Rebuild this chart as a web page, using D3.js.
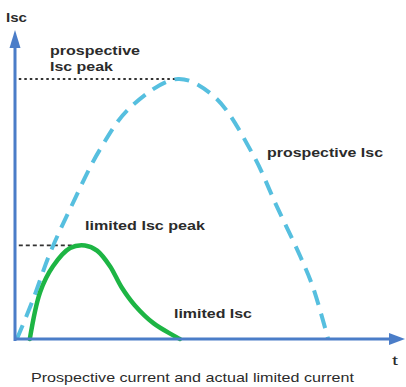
<!DOCTYPE html>
<html>
    <head>
        <meta charset="utf-8">
        <title>Prospective current and actual limited current</title>
        <script src="https://d3js.org/d3.v7.min.js"></script>
        <style>
            body { margin: 0; background: #fff; }
            text { font-family: "Liberation Sans", Arial, sans-serif; fill: #2b2b2b; }
        </style>
    </head>
    <body>
        <script>
            const width = 406;
            const height = 387;

            // values (t in arbitrary units, Isc relative to prospective peak)
            const prospectiveT   = [0.05, 0.47, 0.92, 1.45, 2.24, 3.03, 4.29, 5.26, 6.26, 6.89, 7.50, 7.84, 8.24];
            const prospectiveIsc = [0,    0.15, 0.33, 0.50, 0.73, 0.89, 1.00, 0.93, 0.71, 0.51, 0.32, 0.20, 0];
            const limitedT   = [0.39, 0.66, 1.00, 1.45, 1.84, 2.16, 2.50, 2.80, 3.15, 3.65, 4.34];
            const limitedIsc = [0,    0.18, 0.28, 0.35, 0.36, 0.34, 0.28, 0.20, 0.13, 0.06, 0];
            const prospectivePeak = { t: 4.29, v: 1.00 };
            const limitedPeak = { t: 1.55, v: 0.36 };

            const x = d3.scaleLinear().domain([0, 10]).range([15, 395]);
            const y = d3.scaleLinear().domain([0, 1]).range([339, 79]);

            const svg = d3.select("body").append("svg")
                .attr("width", width)
                .attr("height", height)
            ;

            const line = d3.line()
                .x(d => x(d[0]))
                .y(d => y(d[1]))
                .curve(d3.curveCatmullRom.alpha(0.5))
            ;

            // peak guides
            svg.append("line")
                .attr("x1", x(0.1)).attr("x2", x(prospectivePeak.t))
                .attr("y1", y(prospectivePeak.v)).attr("y2", y(prospectivePeak.v))
                .attr("stroke", "#333").attr("stroke-width", 2)
                .attr("stroke-dasharray", "2.5,3");
            svg.append("line")
                .attr("x1", x(0.1)).attr("x2", x(limitedPeak.t))
                .attr("y1", y(limitedPeak.v)).attr("y2", y(limitedPeak.v))
                .attr("stroke", "#333").attr("stroke-width", 1.6)
                .attr("stroke-dasharray", "4,3");

            // prospective current
            svg.append("path")
                .datum(d3.zip(prospectiveT, prospectiveIsc))
                .attr("d", line)
                .attr("fill", "none")
                .attr("stroke", "#56bfdf")
                .attr("stroke-width", 4)
                .attr("stroke-dasharray", "15,9");

            // limited current
            svg.append("path")
                .datum(d3.zip(limitedT, limitedIsc))
                .attr("d", line)
                .attr("fill", "none")
                .attr("stroke", "#1db544")
                .attr("stroke-width", 4.5)
                .attr("stroke-linecap", "round");

            // axes
            const axisColor = "#4b7dc8";
            svg.append("line")
                .attr("x1", x(0)).attr("x2", x(0))
                .attr("y1", y(0) + 2).attr("y2", 44)
                .attr("stroke", axisColor).attr("stroke-width", 3);
            svg.append("path")
                .attr("d", `M${x(0)},30 L${x(0) + 5.5},48 L${x(0) - 5.5},48 Z`)
                .attr("fill", axisColor);
            svg.append("line")
                .attr("x1", x(0) - 1).attr("x2", 392)
                .attr("y1", y(0)).attr("y2", y(0))
                .attr("stroke", axisColor).attr("stroke-width", 3);
            svg.append("path")
                .attr("d", `M405,${y(0)} L389,${y(0) - 6} L389,${y(0) + 6} Z`)
                .attr("fill", axisColor);

            // labels
            const labels = [
                { text: "Isc", x: 6, y: 22, w: 21, bold: true },
                { text: "prospective", x: 50, y: 55, w: 90, bold: true },
                { text: "Isc peak", x: 50, y: 71, w: 63, bold: true },
                { text: "prospective Isc", x: 267, y: 157, w: 116, bold: true },
                { text: "limited Isc peak", x: 85, y: 230, w: 120, bold: true },
                { text: "limited Isc", x: 174, y: 318, w: 78, bold: true },
                { text: "t", x: 392, y: 365, w: 6, bold: false },
                { text: "Prospective current and actual limited current", x: 31, y: 382, w: 323, bold: false }
            ];
            svg.selectAll("text.lbl")
                .data(labels).join("text")
                .attr("class", "lbl")
                .attr("x", d => d.x)
                .attr("y", d => d.y)
                .attr("font-size", 13.5)
                .attr("font-weight", d => d.bold ? "bold" : "normal")
                .attr("textLength", d => d.w)
                .attr("lengthAdjust", "spacingAndGlyphs")
                .text(d => d.text)
            ;
        </script>
    </body>
</html>
